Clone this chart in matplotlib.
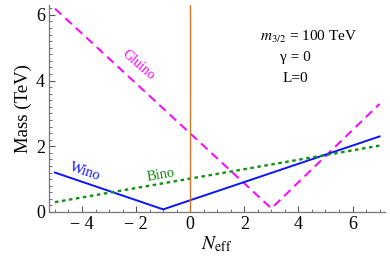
import matplotlib
matplotlib.use("Agg")
import matplotlib.pyplot as plt
from matplotlib.ticker import MultipleLocator

# Data
gluino_x = [-5, 3, 7]
gluino_y = [6.19, 0.11, 3.29]
wino_x = [-5, -1, 7]
wino_y = [1.20, 0.08, 2.30]
bino_x = [-5, 7]
bino_y = [0.30, 2.02]
vline_x = 0
xticks = [-4, -2, 0, 2, 4, 6]
xticklabels = ["\u2212 4", "\u2212 2", "0", "2", "4", "6"]
yticks = [0, 2, 4, 6]
yticklabels = ["0", "2", "4", "6"]

plt.rcParams['font.family'] = ['Liberation Serif', 'DejaVu Serif']
plt.rcParams['mathtext.fontset'] = 'stix'

fig = plt.figure(figsize=(3.9, 2.6), dpi=100)
ax = fig.add_axes([49/390, 1-212/260, (385-49)/390, (212-5)/260])

ax.plot(gluino_x, gluino_y, color='#ff00ff', lw=1.4, ls=(0, (4.5, 2.8)))
ax.plot(wino_x, wino_y, color='#0a14ff', lw=1.4, ls='-')
ax.plot(bino_x, bino_y, color='#109010', lw=1.7, ls=(0, (1.5, 1.5)))
ax.axvline(vline_x, color='#cc7a29', lw=1.0)

ax.set_xlim(-5.22, 7.2)
ax.set_ylim(0, 6.3)

for s in ['top', 'right']:
    ax.spines[s].set_visible(False)
for s in ['left', 'bottom']:
    ax.spines[s].set_color('#777777')
    ax.spines[s].set_linewidth(0.9)

ax.set_xticks(xticks)
ax.set_xticklabels(xticklabels)
ax.set_yticks(yticks)
ax.set_yticklabels(yticklabels)
ax.xaxis.set_minor_locator(MultipleLocator(0.5))
ax.yaxis.set_minor_locator(MultipleLocator(0.2))
ax.tick_params(which='major', direction='in', length=4, width=0.8, color='#555555',
               labelsize=13, pad=3)
ax.tick_params(which='minor', direction='in', length=2.5, width=0.6, color='#555555')

ax.set_ylabel("Mass (TeV)", fontsize=13.5, labelpad=3)
ax.set_xlabel(r"$N_{\rm eff}$", fontsize=14, labelpad=1)

ax.text(4.37, 5.34, r"$m_{3/2}$ = 100 TeV", fontsize=11, ha='center', va='center')
ax.text(3.89, 4.70, "\u03b3 = 0", fontsize=11, ha='center', va='center')
ax.text(3.89, 4.05, "L=0", fontsize=11, ha='center', va='center')

ax.text(-1.93, 4.48, "Gluino", color='#ff00ff', fontsize=10, rotation=-41,
        ha='center', va='center')
ax.text(-3.89, 1.23, "Wino", color='#0a14ff', fontsize=10.5, rotation=-19,
        ha='center', va='center')
ax.text(-1.08, 1.12, "Bino", color='#109010', fontsize=10.5, rotation=10,
        ha='center', va='center')

fig.savefig("out.png", dpi=100)
